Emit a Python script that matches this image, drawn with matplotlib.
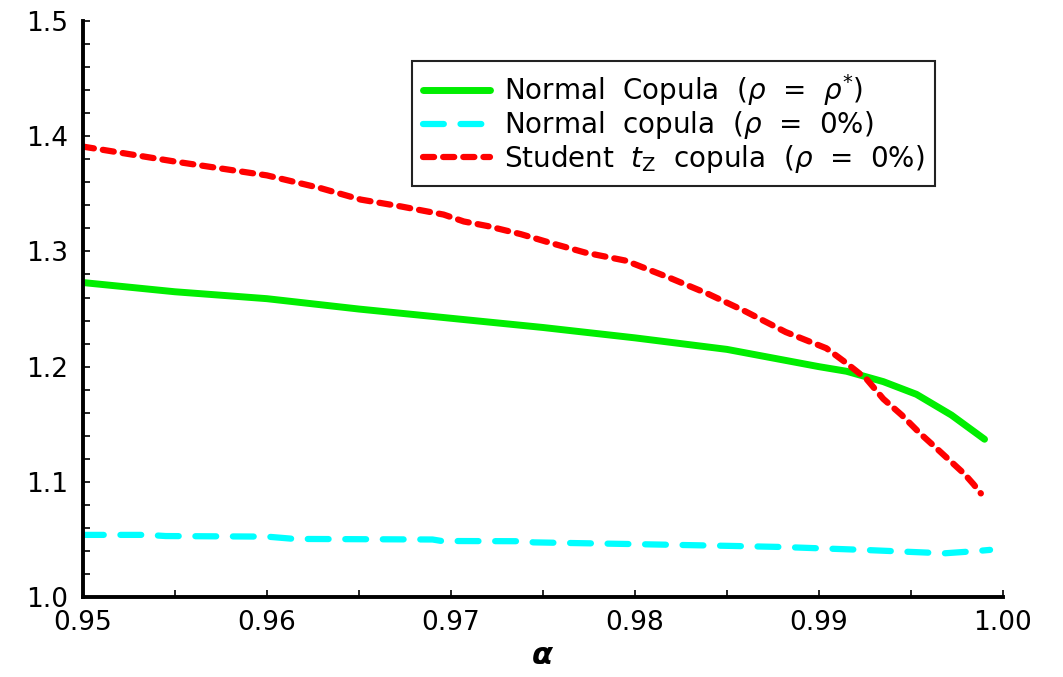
import matplotlib
matplotlib.use("Agg")
import matplotlib.pyplot as plt
from matplotlib.ticker import MultipleLocator

# confidence level alpha and the ratio curves for each copula
alpha_normal_opt = [0.950, 0.955, 0.960, 0.965, 0.970, 0.975, 0.980, 0.985,
                    0.988, 0.990, 0.9915, 0.9935, 0.9953, 0.9972, 0.999]
ratio_normal_opt = [1.273, 1.265, 1.259, 1.250, 1.242, 1.234, 1.225, 1.215,
                    1.206, 1.200, 1.196, 1.187, 1.176, 1.158, 1.137]

alpha_normal_zero = [0.950, 0.9535, 0.9545, 0.960, 0.9615, 0.969, 0.9695, 0.974,
                     0.9745, 0.980, 0.985, 0.988, 0.9924, 0.9968, 0.9986, 0.9993]
ratio_normal_zero = [1.054, 1.054, 1.053, 1.0525, 1.0505, 1.050, 1.0487, 1.0485,
                     1.0475, 1.046, 1.0445, 1.0435, 1.041, 1.038, 1.040, 1.041]

alpha_student = [0.950, 0.955, 0.960, 0.9629, 0.9651, 0.9673, 0.9696, 0.9707,
                 0.9720, 0.9738, 0.9755, 0.9773, 0.9795, 0.9819, 0.9840, 0.9860,
                 0.9882, 0.9904, 0.9915, 0.9926, 0.9935, 0.9945, 0.9955, 0.9964,
                 0.9979, 0.9984, 0.9988]
ratio_student = [1.391, 1.378, 1.366, 1.355, 1.345, 1.339, 1.332, 1.326,
                 1.322, 1.315, 1.307, 1.299, 1.292, 1.277, 1.263, 1.248,
                 1.230, 1.216, 1.203, 1.189, 1.172, 1.158, 1.142, 1.129,
                 1.107, 1.098, 1.090]

labels = [
    r"Normal  Copula  ($\rho$  =  $\rho^{*}$)",
    r"Normal  copula  ($\rho$  =  0%)",
    r"Student  $t_{\mathrm{Z}}$  copula  ($\rho$  =  0%)",
]

plt.rcParams["lines.scale_dashes"] = False

fig = plt.figure(figsize=(10.63, 6.77), dpi=100)
ax = fig.add_axes([0.078, 0.118, 0.8655, 0.851])

ax.plot(alpha_normal_opt, ratio_normal_opt, color="#00ee00", lw=5.0,
        solid_capstyle="round", label=labels[0])
ax.plot(alpha_normal_zero, ratio_normal_zero, color="#00ffff", lw=4.5,
        dashes=(15, 12), dash_capstyle="round", label=labels[1])
ax.plot(alpha_student, ratio_student, color="#ff0000", lw=4.5,
        dashes=(8, 6.5), dash_capstyle="round", label=labels[2])

ax.set_xlim(0.95, 1.00)
ax.set_ylim(1.0, 1.5)
ax.xaxis.set_major_locator(MultipleLocator(0.01))
ax.xaxis.set_minor_locator(MultipleLocator(0.005))
ax.yaxis.set_major_locator(MultipleLocator(0.1))
ax.yaxis.set_minor_locator(MultipleLocator(0.02))
ax.xaxis.set_major_formatter(lambda v, pos: f"{v:.2f}")
ax.yaxis.set_major_formatter(lambda v, pos: f"{v:.1f}")

for side in ("top", "right"):
    ax.spines[side].set_visible(False)
for side in ("left", "bottom"):
    ax.spines[side].set_linewidth(2.8)

ax.tick_params(which="both", direction="in", length=5, width=1.2)
ax.tick_params(axis="x", which="major", labelsize=19, pad=9)
ax.tick_params(axis="y", which="major", labelsize=19, pad=11)

fig.canvas.draw()
ax.get_xticklabels()[0].set_horizontalalignment("left")

ax.set_xlabel(r"$\boldsymbol{\alpha}$", fontsize=22, labelpad=4)

leg = ax.legend(loc="upper left", bbox_to_anchor=(0.3876, 0.9099),
                bbox_transform=fig.transFigure, borderaxespad=0,
                fontsize=20, handlelength=2.4, handletextpad=0.5,
                labelspacing=0.05, borderpad=0.4, fancybox=False,
                framealpha=1, edgecolor="#222222")
leg.get_frame().set_linewidth(1.5)

fig.savefig("out.png", dpi=100)
